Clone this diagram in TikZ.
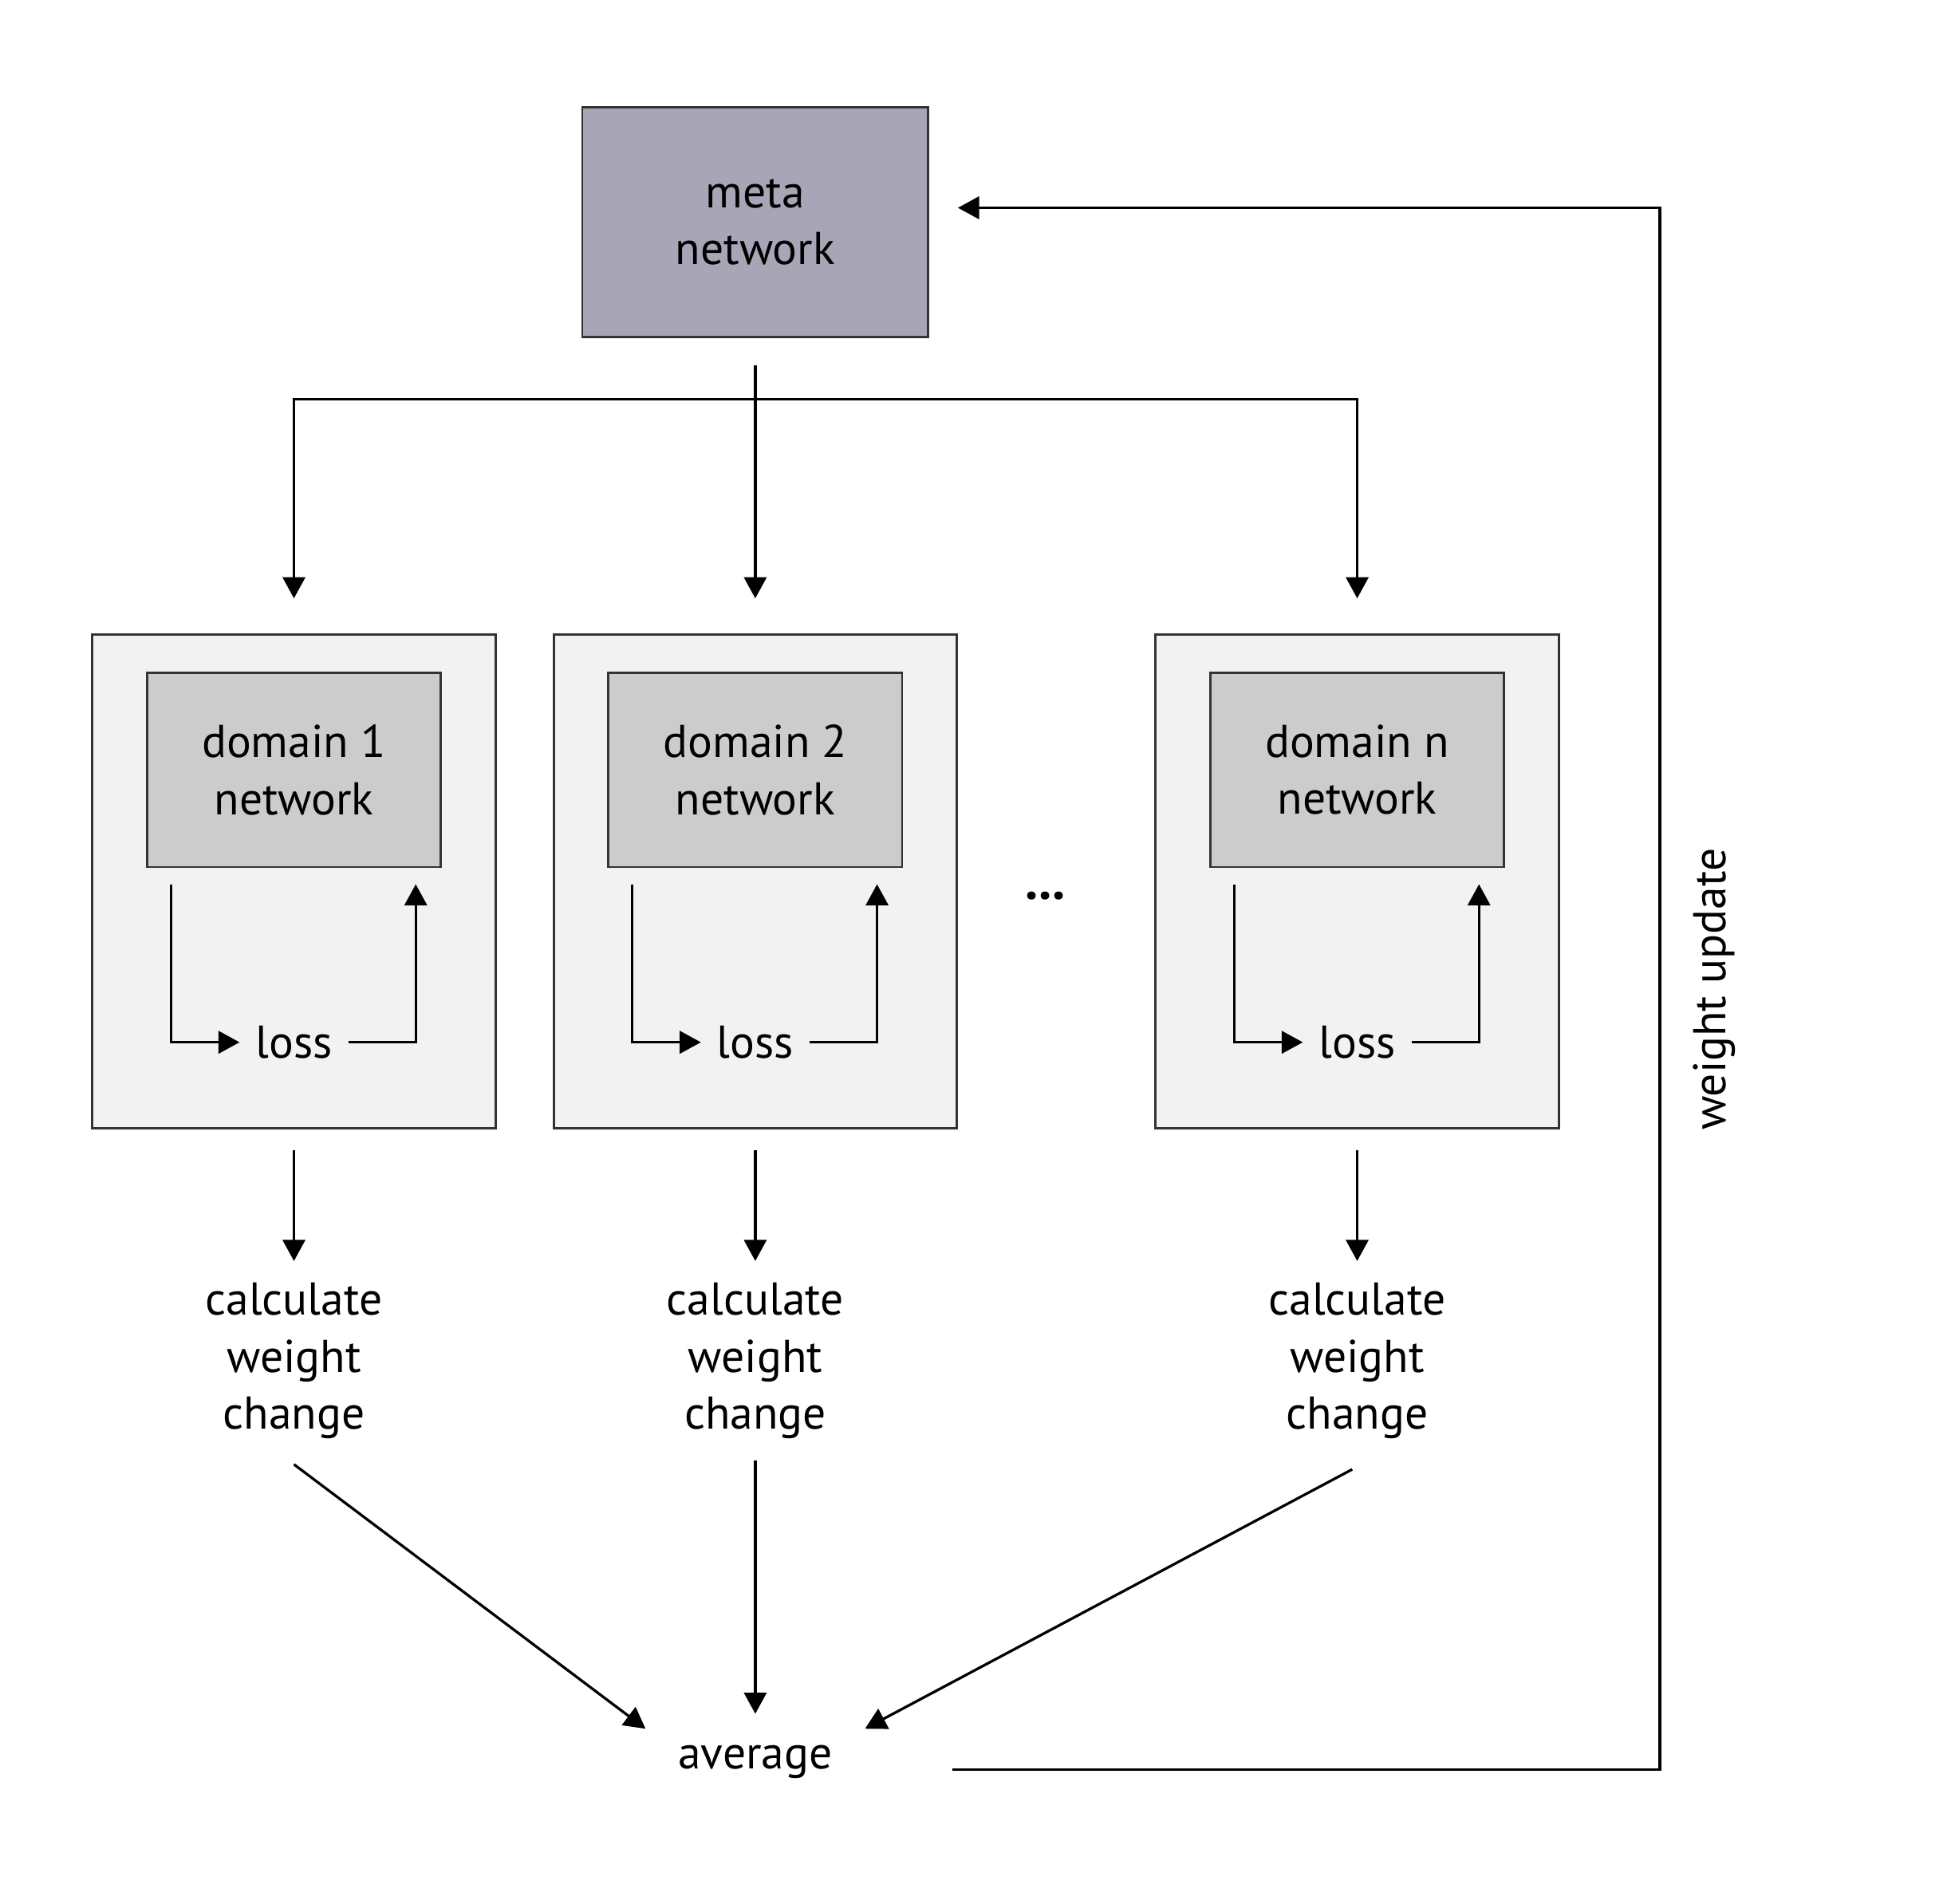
\documentclass[tikz,border=0pt]{standalone}
\usepackage{fontspec}
\setmainfont{PT Sans}
\usepackage{xcolor}
\usepackage{tikz}
\usetikzlibrary{arrows.meta,positioning,calc}

\definecolor{metafill}{RGB}{168,165,183}
\definecolor{outerfill}{RGB}{242,242,242}
\definecolor{innerfill}{RGB}{204,204,204}

\begin{document}
\begin{tikzpicture}[
  font=\fontsize{10.5}{13}\selectfont,
  outer/.style={draw=black!80,line width=0.5pt,fill=outerfill,minimum width=3.24cm,minimum height=3.97cm,inner sep=0pt},
  inner/.style={draw=black!80,line width=0.5pt,fill=innerfill,minimum width=2.36cm,minimum height=1.56cm,align=center,inner sep=0pt},
  lossnode/.style={minimum width=0.86cm,inner sep=0pt},
  calcnode/.style={align=center,inner sep=0pt},
  arr/.style={-{Triangle[length=0.17cm,width=0.18cm]},line width=0.6pt}
]
\useasboundingbox (0,0) rectangle (15.68,-15.30);
\node[draw=black!80,line width=0.5pt,fill=metafill,minimum width=2.78cm,minimum height=1.85cm,align=center] (meta) at (6.07,-1.785) {meta\\network};
\node[outer,below=2.37cm of meta] (d2) {};
\node[outer,left=0.45cm of d2] (d1) {};
\node[outer,right=1.58cm of d2] (dn) {};
\node[inner,below=0.31cm of d1.north] (in1) {domain 1\\network};
\node[inner,below=0.31cm of d2.north] (in2) {domain 2\\network};
\node[inner,below=0.31cm of dn.north] (inn) {domain n\\network};
\node[lossnode] (loss1) at ($(in1.south)+(0,-1.40)$) {loss};
\node[lossnode] (loss2) at ($(in2.south)+(0,-1.40)$) {loss};
\node[lossnode] (lossn) at ($(inn.south)+(0,-1.40)$) {loss};
\node[font=\fontsize{12}{14}\selectfont\bfseries] (dots) at (8.40,-7.20) {...};
\node[calcnode] (c1) at ($(d1.south)+(0,-1.86)$) {calculate\\weight\\change};
\node[calcnode] (c2) at ($(d2.south)+(0,-1.86)$) {calculate\\weight\\change};
\node[calcnode] (cn) at ($(dn.south)+(0,-1.86)$) {calculate\\weight\\change};
\node[minimum width=1.75cm,minimum height=0.76cm,inner sep=0pt] (avg) at (6.07,-14.16) {average};
\node[rotate=90] (upd) at (13.78,-7.95) {weight update};
\coordinate (split) at (6.07,-3.21);
\coordinate (ret) at (13.34,-14.22);
% meta network to the domains
\draw[arr,shorten <=0.22cm,shorten >=0.28cm] (meta) -- (d2);
\draw[arr,shorten >=0.28cm] (split) -| (d1.north);
\draw[arr,shorten >=0.28cm] (split) -| (dn.north);
% inner loops
\foreach \n in {1,2,n}{
  \draw[arr] ($(in\n.south west)+(0.20,-0.13)$) |- (loss\n.west);
  \draw[arr] (loss\n.east) -| ($(in\n.south east)+(-0.21,-0.13)$);
  \draw[arr,shorten <=0.17cm,shorten >=0.17cm] (d\n) -- (c\n);
}
% to the average
\draw[arr] ($(c1.south)+(0,-0.20)$) -- ($(avg.north west)+(0,-0.12)$);
\draw[arr,shorten <=0.17cm] (c2.south) -- (avg.north);
\draw[arr] ($(cn.south)+(-0.04,-0.24)$) -- ($(avg.north east)+(0,-0.12)$);
% weight update
\draw[arr,shorten >=0.23cm] ($(avg.east)+(0.70,-0.06)$) -- (ret) |- ($(meta.east)+(0,0.115)$);
\end{tikzpicture}
\end{document}
